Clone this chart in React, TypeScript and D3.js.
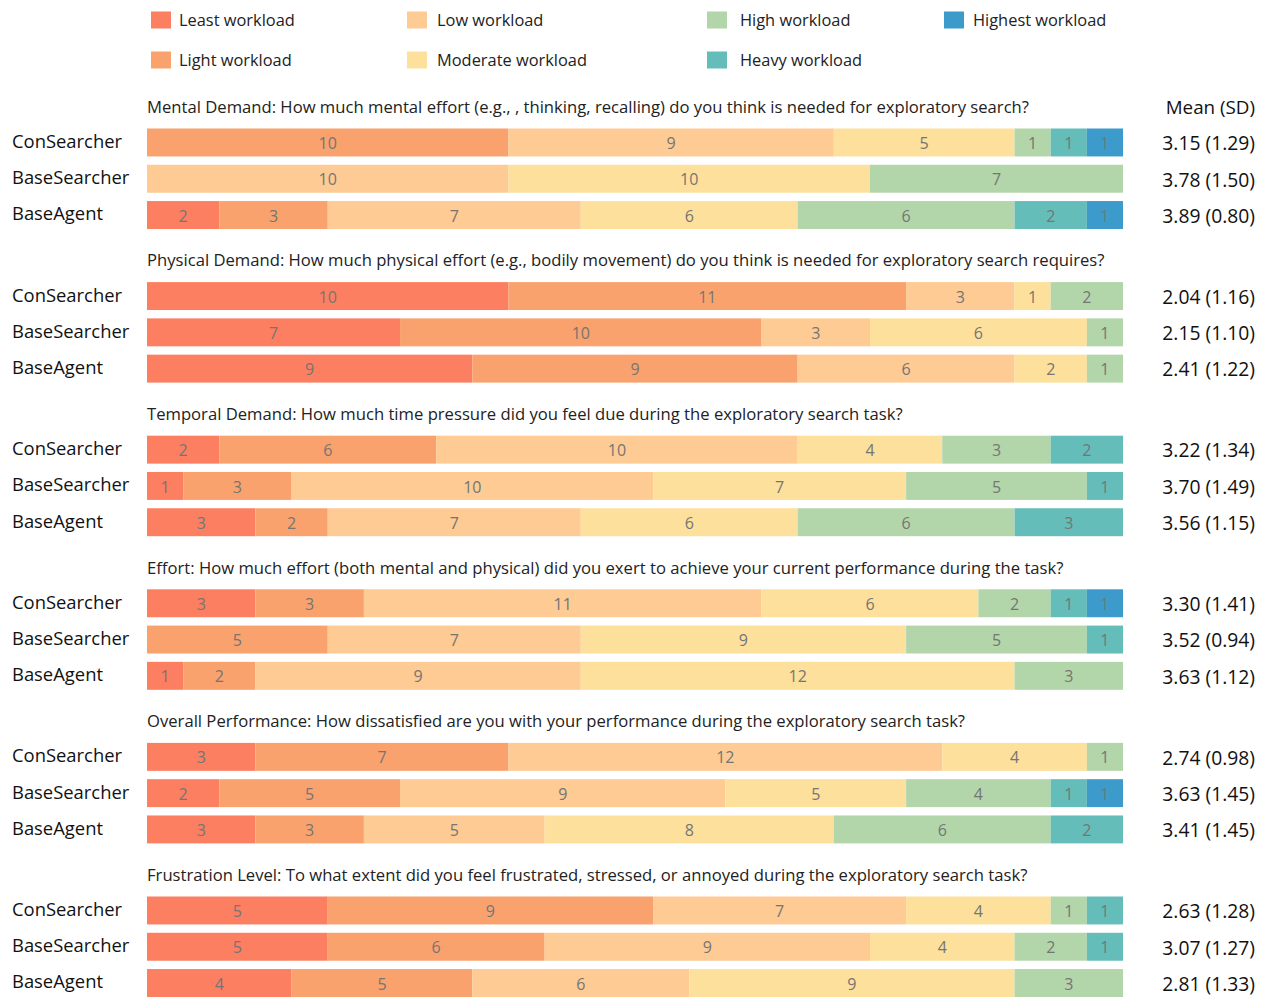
import * as d3 from "d3";

const categories = [
  "Least workload",
  "Light workload",
  "Low workload",
  "Moderate workload",
  "High workload",
  "Heavy workload",
  "Highest workload",
];
const colors = ["#FC7F61", "#F9A26E", "#FDCB93", "#FDE09B", "#B2D6A9", "#65BDB9", "#3D9BCB"];
const systems = ["ConSearcher", "BaseSearcher", "BaseAgent"];

const questions = [
  "Mental Demand: How much mental effort (e.g., , thinking, recalling) do you think is needed for exploratory search?",
  "Physical Demand: How much physical effort (e.g., bodily movement) do you think is needed for exploratory search requires?",
  "Temporal Demand: How much time pressure did you feel due during the exploratory search task?",
  "Effort: How much effort (both mental and physical) did you exert to achieve your current performance during the task?",
  "Overall Performance: How dissatisfied are you with your performance during the exploratory search task?",
  "Frustration Level: To what extent did you feel frustrated, stressed, or annoyed during the exploratory search task?",
];

// counts per system, ordered Least -> Highest
const mental = [
  [0, 10, 9, 5, 1, 1, 1],
  [0, 0, 10, 10, 7, 0, 0],
  [2, 3, 7, 6, 6, 2, 1],
];
const physical = [
  [10, 11, 3, 1, 2, 0, 0],
  [7, 10, 3, 6, 1, 0, 0],
  [9, 9, 6, 2, 1, 0, 0],
];
const temporal = [
  [2, 6, 10, 4, 3, 2, 0],
  [1, 3, 10, 7, 5, 1, 0],
  [3, 2, 7, 6, 6, 3, 0],
];
const effort = [
  [3, 3, 11, 6, 2, 1, 1],
  [0, 5, 7, 9, 5, 1, 0],
  [1, 2, 9, 12, 3, 0, 0],
];
const performance = [
  [3, 7, 12, 4, 1, 0, 0],
  [2, 5, 9, 5, 4, 1, 1],
  [3, 3, 5, 8, 6, 2, 0],
];
const frustration = [
  [5, 9, 7, 4, 1, 1, 0],
  [5, 6, 9, 4, 2, 1, 0],
  [4, 5, 6, 9, 3, 0, 0],
];
const allCounts = [mental, physical, temporal, effort, performance, frustration];

const meanSD = [
  ["3.15 (1.29)", "3.78 (1.50)", "3.89 (0.80)"],
  ["2.04 (1.16)", "2.15 (1.10)", "2.41 (1.22)"],
  ["3.22 (1.34)", "3.70 (1.49)", "3.56 (1.15)"],
  ["3.30 (1.41)", "3.52 (0.94)", "3.63 (1.12)"],
  ["2.74 (0.98)", "3.63 (1.45)", "3.41 (1.45)"],
  ["2.63 (1.28)", "3.07 (1.27)", "2.81 (1.33)"],
];

const width = 1265;
const height = 997;
const font = "'Open Sans', 'Noto Sans', sans-serif";

export default function App() {
  const x = d3.scaleLinear().domain([0, 27]).range([147, 1123]);
  const groupY = d3.scaleLinear().domain([0, 1]).range([107, 260.6]);
  const rowY = d3
    .scaleBand()
    .domain(systems)
    .range([128.5, 229])
    .paddingInner(0.23)
    .paddingOuter(0);

  const stack = d3
    .stack<number[]>()
    .keys(categories.map((_, i) => String(i)))
    .value((d, k) => d[+k]);

  // legend columns: swatch x and text x
  const legendCols = [151, 407, 707, 944];
  const legendText = [179, 437, 740, 973];

  return (
    <svg
      width={width}
      height={height}
      style={{ position: "absolute", left: 0, top: 0, fontFamily: font }}
    >
      {/* legend */}
      {categories.map((c, i) => {
        const col = Math.floor(i / 2);
        const row = i % 2;
        const cy = row === 0 ? 20 : 60;
        return (
          <g key={c}>
            <rect x={legendCols[col]} y={cy - 8.5} width={20} height={17} fill={colors[i]} />
            <text
              x={legendText[col]}
              y={cy}
              dy="0.35em"
              fontSize={16.4}
              fill="#222"
            >
              {c}
            </text>
          </g>
        );
      })}

      <text x={1255} y={107} dy="0.35em" textAnchor="end" fontSize={18.8} fill="#111">
        Mean (SD)
      </text>

      {questions.map((q, qi) => {
        const gy = groupY(qi) - 107;
        const series = stack(allCounts[qi]);
        return (
          <g key={q} transform={`translate(0, ${gy})`}>
            <text x={147} y={107} dy="0.35em" fontSize={16.65} fill="#222">
              {q}
            </text>
            {systems.map((s, si) => {
              const y0 = rowY(s)!;
              const bh = rowY.bandwidth();
              return (
                <g key={s}>
                  <text x={12} y={y0 + bh / 2 - 1} dy="0.35em" fontSize={18.4} fill="#111">
                    {s}
                  </text>
                  <text
                    x={1255}
                    y={y0 + bh / 2 + 1}
                    dy="0.35em"
                    textAnchor="end"
                    fontSize={19.3}
                    fill="#111"
                  >
                    {meanSD[qi][si]}
                  </text>
                  {series.map((ser, ci) => {
                    const seg = ser[si];
                    const v = seg[1] - seg[0];
                    if (v <= 0) return null;
                    const x0 = x(seg[0]);
                    const x1 = x(seg[1]);
                    return (
                      <g key={ci}>
                        <rect x={x0} y={y0} width={x1 - x0} height={bh} fill={colors[ci]} />
                        <text
                          x={(x0 + x1) / 2}
                          y={y0 + bh / 2 + 1}
                          dy="0.35em"
                          textAnchor="middle"
                          fontSize={16}
                          fill="#757575"
                        >
                          {v}
                        </text>
                      </g>
                    );
                  })}
                </g>
              );
            })}
          </g>
        );
      })}
    </svg>
  );
}
